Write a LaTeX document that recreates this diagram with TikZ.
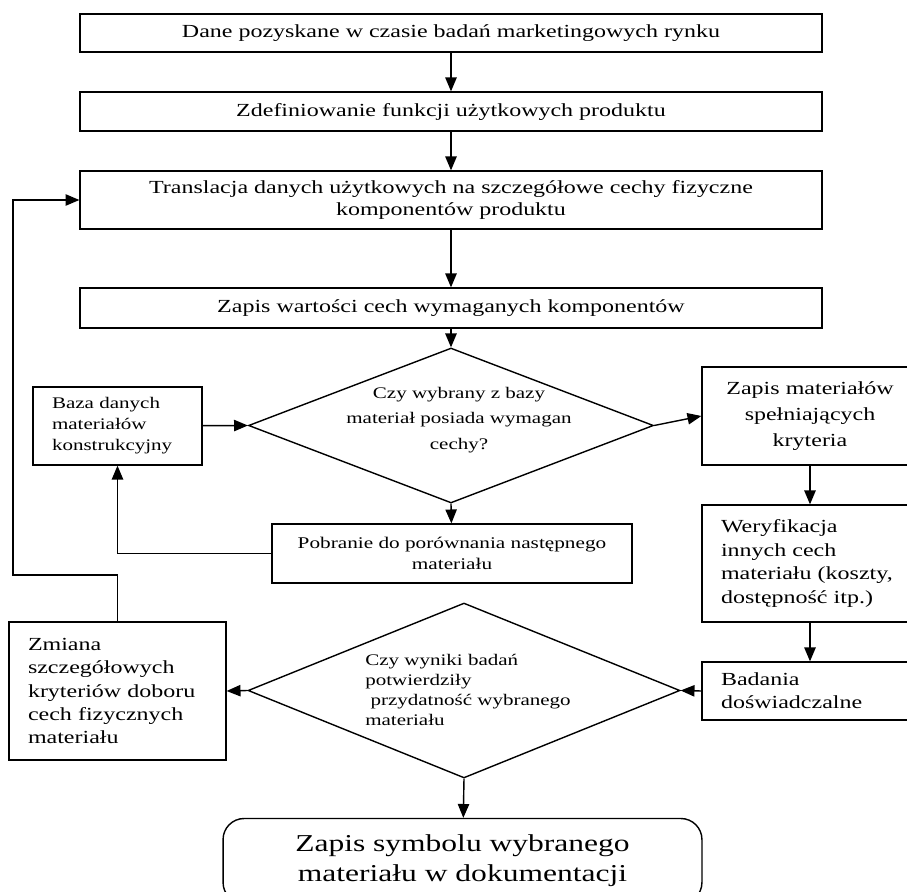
\documentclass[tikz,border=0pt]{standalone}
\usepackage{fontspec}
\setmainfont{Liberation Serif}[FakeStretch=1.3]
\usetikzlibrary{positioning, shapes, arrows}
\tikzstyle{mainBox}=[draw, line width=0.8pt, minimum width=14.84cm, inner sep=0pt, align=center, font=\fontsize{10.5}{13}\selectfont]
\tikzstyle{sideBox}=[draw, line width=0.8pt, inner sep=0pt, inner xsep=0.38cm, align=left, font=\fontsize{10.5}{13.3}\selectfont]
\tikzstyle{decision}=[draw, line width=0.8pt, diamond, inner sep=0pt]
\tikzstyle{question}=[inner sep=0pt, font=\fontsize{9.2}{11.5}\selectfont]
\tikzstyle{endBox}=[draw, line width=0.8pt, rounded corners=12pt, minimum width=9.58cm, minimum height=1.7cm, align=center, font=\fontsize{13.8}{17}\selectfont]
\tikzstyle{flowArrow}=[-triangle 45, line width=0.8pt]

\begin{document}
\begin{tikzpicture}[x=0.02cm, y=-0.02cm]
        \useasboundingbox (0,0) rectangle (907,892);

        \node[mainBox, minimum height=0.76cm] (dane) at (451, 33) {Dane pozyskane w czasie badań marketingowych rynku};
        \node[mainBox, minimum height=0.78cm] (funkcje) at (451, 111.5) {Zdefiniowanie funkcji użytkowych produktu};
        \node[mainBox, minimum height=1.16cm] (translacja) at (451, 200) {Translacja danych użytkowych na szczegółowe cechy fizyczne\\ komponentów produktu};
        \node[mainBox, minimum height=0.8cm] (wartosci) at (451, 308) {Zapis wartości cech wymaganych komponentów};

        \node[decision, minimum width=8.1cm, minimum height=3.1cm] (czyBaza) at (451, 425.5) {};
        \node[question, align=center, font=\fontsize{9.2}{14.5}\selectfont] (pytanieBaza) at (459, 420) {Czy wybrany z bazy\\ materiał posiada wymagan\\ cechy?};

        \node[sideBox, text width=2.62cm, minimum height=1.56cm, font=\fontsize{9.2}{12}\selectfont] (baza) at (117.5, 426) {Baza danych\\ materiałów\\ konstrukcyjny};
        \node[mainBox, minimum width=7.2cm, minimum height=1.18cm, font=\fontsize{9.3}{12}\selectfont] (pobranie) at (452, 553.5) {Pobranie do porównania następnego\\ materiału};

        \node[sideBox, align=center, text width=3.56cm, minimum height=1.96cm, font=\fontsize{10.5}{14.7}\selectfont] (spelniajace) at (810, 416) {Zapis materiałów\\ spełniających\\ kryteria};
        \node[sideBox, text width=3.56cm, minimum height=2.34cm] (weryfikacja) at (810, 563.5) {Weryfikacja\\ innych cech\\ materiału (koszty,\\ dostępność itp.)};
        \node[sideBox, text width=3.56cm, minimum height=1.16cm] (badania) at (810, 691) {Badania\\ doświadczalne};

        \node[decision, minimum width=8.64cm, minimum height=3.5cm] (czyWyniki) at (464, 690.5) {};
        \node[question, align=left] (pytanieWyniki) at (468, 690) {Czy wyniki badań\\ potwierdziły\\ \ przydatność wybranego\\ materiału};

        \node[sideBox, text width=3.58cm, minimum height=2.76cm] (zmiana) at (117.5, 691) {Zmiana\\ szczegółowych\\ kryteriów doboru\\ cech fizycznych\\ materiału};

        \node[endBox] (symbol) at (462.5, 861) {Zapis symbolu wybranego\\ materiału w dokumentacji};

        \coordinate (powrot) at (13, 575);

        \draw[flowArrow] (dane) -- (funkcje);
        \draw[flowArrow] (funkcje) -- (translacja);
        \draw[flowArrow] (translacja) -- (wartosci);
        \draw[flowArrow] (wartosci) -- (czyBaza.north);
        \draw[flowArrow] (baza) -- (czyBaza.west);
        \draw[flowArrow] (czyBaza.east) -- (spelniajace.west);
        \draw[flowArrow] (czyBaza.south) -- (pobranie);
        \draw[flowArrow] (pobranie.west) -| (baza.south);
        \draw[flowArrow] (spelniajace) -- (weryfikacja);
        \draw[flowArrow] (weryfikacja) -- (badania);
        \draw[flowArrow] (badania.west) -- (czyWyniki.east);
        \draw[flowArrow] (czyWyniki.west) -- (zmiana.east);
        \draw[flowArrow] (czyWyniki.south) -- (symbol);
        \draw[flowArrow] (zmiana.north) -- (zmiana.north |- powrot) -- (powrot) |- (translacja.west);

    \end{tikzpicture}
\end{document}
